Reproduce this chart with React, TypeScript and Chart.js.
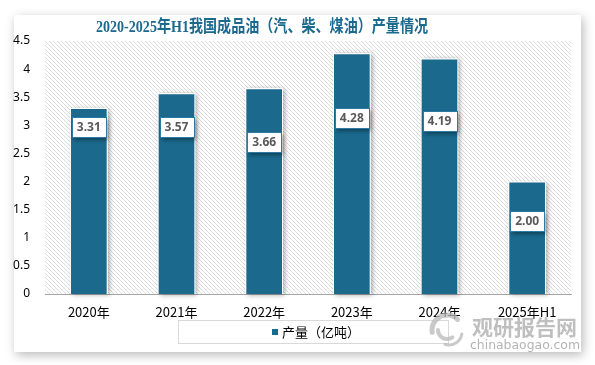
import React, { useEffect, useRef } from "react";
import { Chart, registerables } from "chart.js";

Chart.register(...registerables);

const categories = ["2020年", "2021年", "2022年", "2023年", "2024年", "2025年H1"];
const production = [3.31, 3.57, 3.66, 4.28, 4.19, 2.0];
const yTicks = [0, 0.5, 1, 1.5, 2, 2.5, 3, 3.5, 4, 4.5];
const titleText = "2020-2025年H1我国成品油（汽、柴、煤油）产量情况";
const seriesLabel = "产量（亿吨）";
const watermarkCn = "观研报告网";
const watermarkEn = "chinabaogao.com";

const BAR_COLOR = "#1b6a8e";
// where each value label sits, as a fraction of its bar's height
const LABEL_FRACTION = [0.9, 0.83, 0.74, 0.73, 0.735, 0.65];

function makeHatch(ctx: CanvasRenderingContext2D) {
  const c = document.createElement("canvas");
  c.width = 4;
  c.height = 4;
  const g = c.getContext("2d")!;
  g.fillStyle = "#ffffff";
  g.fillRect(0, 0, 4, 4);
  g.fillStyle = "#dcdcdc";
  for (let i = 0; i < 4; i++) g.fillRect(i, i, 1, 1);
  return ctx.createPattern(c, "repeat")!;
}

const backgroundPlugin = {
  id: "hatchBg",
  beforeDatasetsDraw(chart: any) {
    const { ctx, chartArea } = chart;
    ctx.save();
    ctx.fillStyle = makeHatch(ctx);
    ctx.fillRect(chartArea.left, chartArea.top, chartArea.right - chartArea.left, chartArea.bottom - chartArea.top);
    // bar shadows
    const meta = chart.getDatasetMeta(0);
    meta.data.forEach((bar: any) => {
      const w = bar.width;
      ctx.save();
      ctx.shadowColor = "rgba(0,0,0,0.35)";
      ctx.shadowBlur = 5;
      ctx.shadowOffsetX = 2;
      ctx.shadowOffsetY = 1;
      ctx.fillStyle = "#ffffff";
      ctx.fillRect(bar.x - w / 2, bar.y, w, bar.base - bar.y);
      ctx.restore();
    });
    ctx.restore();
  },
};

const labelsPlugin = {
  id: "valueBoxes",
  afterDatasetsDraw(chart: any) {
    const { ctx } = chart;
    const meta = chart.getDatasetMeta(0);
    const yScale = chart.scales.y;
    ctx.save();
    ctx.font = "bold 12px 'Noto Sans', 'DejaVu Sans', sans-serif";
    meta.data.forEach((bar: any, i: number) => {
      const v = production[i];
      const text = v.toFixed(2);
      const cy = yScale.getPixelForValue(v * LABEL_FRACTION[i]);
      const tw = ctx.measureText(text).width;
      const bw = Math.round(tw + 10);
      const bh = 20;
      const x0 = Math.round(bar.x - bw / 2) + 0.5;
      const y0 = Math.round(cy - bh / 2) + 0.5;
      ctx.save();
      ctx.shadowColor = "rgba(0,0,0,0.4)";
      ctx.shadowBlur = 4;
      ctx.shadowOffsetX = 1;
      ctx.shadowOffsetY = 2;
      ctx.fillStyle = "#ffffff";
      ctx.fillRect(x0, y0, bw, bh);
      ctx.restore();
      ctx.strokeStyle = "#2a7aa3";
      ctx.lineWidth = 1;
      ctx.strokeRect(x0, y0, bw, bh);
      ctx.fillStyle = "#595959";
      ctx.textAlign = "center";
      ctx.textBaseline = "middle";
      ctx.fillText(text, bar.x, y0 + bh / 2 + 0.5);
    });
    ctx.restore();
  },
};

const decorPlugin = {
  id: "decor",
  afterDraw(chart: any) {
    const { ctx } = chart;
    ctx.save();
    // title
    ctx.fillStyle = "#1b6a8e";
    ctx.font = "bold 17px 'Liberation Serif', 'Noto Sans CJK SC', serif";
    ctx.textAlign = "center";
    ctx.textBaseline = "middle";
    ctx.fillText(titleText, 262, 28, 332);

    // legend box
    ctx.strokeStyle = "#d9d9d9";
    ctx.lineWidth = 1;
    ctx.strokeRect(178.5, 320.5, 270, 23);
    ctx.fillStyle = BAR_COLOR;
    ctx.fillRect(272, 329, 6, 6);
    ctx.fillStyle = "#000000";
    ctx.font = "13px 'Noto Sans CJK SC', sans-serif";
    ctx.textAlign = "left";
    ctx.textBaseline = "middle";
    ctx.fillText(seriesLabel, 282, 332);

    // watermark
    ctx.globalAlpha = 0.75;
    ctx.strokeStyle = "#b8b8b8";
    ctx.lineCap = "round";
    ctx.lineWidth = 5;
    ctx.beginPath();
    ctx.arc(447, 330, 15, Math.PI * 0.95, Math.PI * 1.75);
    ctx.stroke();
    ctx.lineWidth = 4;
    ctx.beginPath();
    ctx.arc(447, 330, 9, Math.PI * 1.0, Math.PI * 0.3, true);
    ctx.stroke();
    ctx.lineWidth = 3;
    ctx.beginPath();
    ctx.arc(449, 332, 13, Math.PI * 0.05, Math.PI * 0.6);
    ctx.stroke();
    ctx.fillStyle = "#aaaaaa";
    ctx.font = "bold 21px 'Noto Sans CJK SC', sans-serif";
    ctx.textAlign = "left";
    ctx.fillText(watermarkCn, 472, 327, 108);
    ctx.fillStyle = "#9a9a9a";
    ctx.font = "13px 'DejaVu Sans', sans-serif";
    ctx.fillText(watermarkEn, 470, 346, 110);
    ctx.restore();
  },
};

export default function App() {
  const canvasRef = useRef<HTMLCanvasElement | null>(null);

  useEffect(() => {
    if (!canvasRef.current) return;
    const chart = new Chart(canvasRef.current, {
      type: "bar",
      data: {
        labels: categories,
        datasets: [
          {
            label: seriesLabel,
            data: production,
            backgroundColor: BAR_COLOR,
            borderColor: "#ffffff",
            borderWidth: 1,
            barPercentage: 0.43,
            categoryPercentage: 1,
          },
        ],
      },
      options: {
        animation: false,
        responsive: false,
        maintainAspectRatio: false,
        devicePixelRatio: 1,
        layout: { padding: { left: 0, right: 24, top: 41, bottom: 0 } },
        plugins: {
          legend: { display: false },
          title: { display: false },
          tooltip: { enabled: false },
        },
        scales: {
          x: {
            grid: { display: false, drawTicks: false },
            border: { display: true, color: "#a6a6a6", width: 1 },
            ticks: {
              color: "#000000",
              padding: 10,
              font: { family: "'Noto Sans CJK SC', sans-serif", size: 13 },
              maxRotation: 0,
              autoSkip: false,
            },
            afterFit: (s: any) => {
              s.height = 71;
            },
          },
          y: {
            min: 0,
            max: 4.5,
            afterBuildTicks: (s: any) => {
              s.ticks = yTicks.map((v) => ({ value: v }));
            },
            grid: { display: false, drawTicks: false },
            border: { display: false },
            ticks: {
              color: "#000000",
              padding: 15,
              font: { family: "'Noto Sans', sans-serif", size: 12 },
              callback: (v: any) => String(Number(v)),
            },
            afterFit: (s: any) => {
              s.width = 45;
            },
          },
        },
      },
      plugins: [backgroundPlugin, labelsPlugin, decorPlugin],
    });
    return () => chart.destroy();
  }, []);

  return (
    <div style={{ position: "fixed", left: 0, top: 0, width: 595, height: 365, background: "#ffffff" }}>
      <div
        style={{
          position: "absolute",
          left: 14,
          top: 15,
          width: 567,
          height: 337,
          background: "#ffffff",
          boxShadow: "2px 3px 10px rgba(0,0,0,0.28)",
        }}
      />
      <canvas
        ref={canvasRef}
        width={595}
        height={365}
        style={{ position: "absolute", left: 0, top: 0, width: 595, height: 365 }}
      />
    </div>
  );
}
